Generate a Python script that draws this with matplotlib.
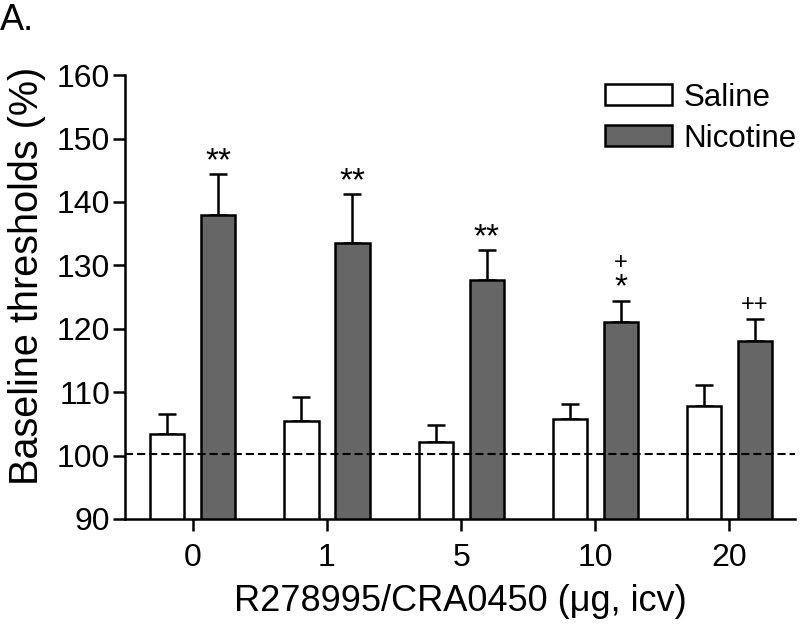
import matplotlib
matplotlib.use("Agg")
import matplotlib.pyplot as plt
import numpy as np

plt.rcParams['font.family'] = ['Liberation Sans', 'DejaVu Sans']

doses = ["0", "1", "5", "10", "20"]
saline_mean = [103.4, 105.5, 102.1, 105.8, 107.8]
saline_sem = [3.2, 3.7, 2.7, 2.3, 3.4]
nicotine_mean = [137.9, 133.5, 127.7, 121.0, 118.1]
nicotine_sem = [6.5, 7.7, 4.7, 3.4, 3.4]
stars = ["**", "**", "**", "*", ""]
plus = ["", "", "", "+", "++"]
baseline = 100.2

fig = plt.figure(figsize=(8.0, 6.26), dpi=100)
ax = fig.add_axes([0.156, 0.171, 0.838, 0.709])

x = np.arange(len(doses))
w = 0.254
off = 0.19
lw = 1.8
ax.bar(x - off, saline_mean, w, color='white', edgecolor='black', linewidth=lw, label='Saline', zorder=2)
ax.bar(x + off, nicotine_mean, w, color='#666666', edgecolor='black', linewidth=lw, label='Nicotine', zorder=2)
ax.errorbar(x - off, saline_mean, yerr=[np.zeros(len(x)), saline_sem], fmt='none', ecolor='black',
            elinewidth=lw, capsize=6.5, capthick=lw, zorder=1)
ax.errorbar(x + off, nicotine_mean, yerr=[np.zeros(len(x)), nicotine_sem], fmt='none', ecolor='black',
            elinewidth=lw, capsize=6.5, capthick=lw, zorder=1)
ax.axhline(baseline, color='black', linestyle=(0, (3.9, 1.9)), linewidth=1.5, zorder=3)

for i in range(len(x)):
    top = nicotine_mean[i] + nicotine_sem[i]
    if stars[i] and plus[i]:
        ax.annotate(stars[i], (x[i] + off, top), xytext=(0, -2), textcoords='offset points',
                    ha='center', va='bottom', fontsize=24)
        ax.annotate(plus[i], (x[i] + off, top), xytext=(0, 19), textcoords='offset points',
                    ha='center', va='bottom', fontsize=17)
    elif stars[i]:
        ax.annotate(stars[i], (x[i] + off, top), xytext=(0, -2), textcoords='offset points',
                    ha='center', va='bottom', fontsize=24)
    elif plus[i]:
        ax.annotate(plus[i], (x[i] + off, top), xytext=(0, 2), textcoords='offset points',
                    ha='center', va='bottom', fontsize=17)

ax.set_xlim(-0.507, 4.49)
ax.set_ylim(90, 160)
ax.set_yticks(np.arange(90, 161, 10))
ax.set_xticks(x)
ax.set_xticklabels(doses)
ax.tick_params(axis='both', labelsize=23, width=lw, length=8.5, direction='out')
ax.tick_params(axis='y', pad=2)
ax.tick_params(axis='x', pad=9)
ax.spines['top'].set_visible(False)
ax.spines['right'].set_visible(False)
ax.spines['left'].set_linewidth(lw)
ax.spines['bottom'].set_linewidth(lw)
ax.set_ylabel('Baseline thresholds (%)', fontsize=28.5)
ax.yaxis.set_label_coords(-0.117, 0.547)
ax.set_xlabel('R278995/CRA0450 (\u03bcg, icv)', fontsize=26, labelpad=8)

leg = ax.legend(loc='upper right', bbox_to_anchor=(1.03, 1.025), frameon=False, fontsize=22.5,
                handlelength=2.15, handleheight=0.65, handletextpad=0.35, labelspacing=0.35,
                borderaxespad=0.2)

fig.text(0.0, 0.995, 'A.', fontsize=26, ha='left', va='top')

fig.savefig('out.png', dpi=100)
